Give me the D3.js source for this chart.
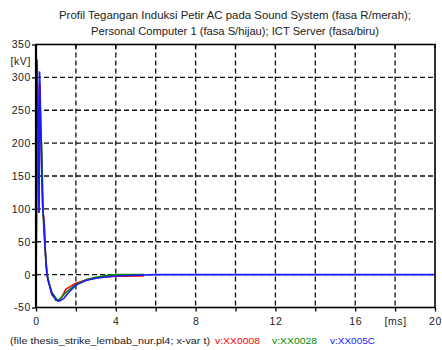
<!DOCTYPE html>
<html><head><meta charset="utf-8">
<script src="https://cdn.jsdelivr.net/npm/d3@7"></script>
<style>
html,body{margin:0;padding:0;background:#fff;}
svg text{font-family:"Liberation Sans",Arial,sans-serif;}
</style></head>
<body><svg id="c" width="442" height="350"></svg>
<script>
// ---- data (time in ms, voltage in kV) ----
const titleLines = ["Profil Tegangan Induksi Petir AC pada Sound System (fasa R/merah);",
                    "Personal Computer 1 (fasa S/hijau); ICT Server (fasa/biru)"];
const xTicks = [0,2,4,6,8,10,12,14,16,18,20];
const xTickLabels = ["0","","4","","8","","12","","16","[ms]","20"];
const yTicks = [-50,0,50,100,150,200,250,300,350];
const yTickLabels = ["-50","0","50","100","150","200","250","300","350"];
const yUnit = "[kV]";
const fileLabel = "(file thesis_strike_lembab_nur.pl4; x-var t)";
const seriesNames = ["v:XX0008","v:XX0028","v:XX005C"];
const seriesColors = ["#ff0000","#008a00","#1a1aff"];

const tRed = [0,0.02,0.07,0.1,0.15,0.18,0.25,0.3,0.34,0.42,0.47,0.55,0.8,1.1,1.3,1.5,2.0,2.5,3.2,4.0,5.4];
const vRed = [0,300,290,230,95,290,215,140,100,75,33,0,-31,-40,-34,-22,-13,-8,-4,-2.5,-2];

const tGreen = [0,0.06,0.12,0.22,0.28,0.33,0.36,0.4,0.47,0.55,0.62,0.8,1.1,1.5,2.0,2.5,3.0,3.5,4.0,5.4];
const vGreen = [0,150,210,218,200,135,90,65,33,2,-9,-27,-40,-27,-15,-8,-4,-1.5,0,0];

const tBlue = [0,0.02,0.05,0.07,0.1,0.15,0.165,0.18,0.2,0.25,0.3,0.34,0.4,0.45,0.5,0.55,0.62,0.78,1.0,1.2,1.4,1.7,2.0,2.5,3.0,3.5,4.0,5.0,6.0,20];
const vBlue = [0,328,326,309,230,95,160,308,290,215,140,100,80,45,18,0,-11,-28,-39,-40,-36,-25,-16,-9,-5.5,-3.5,-2,-1,0,0];

// ---- layout ----
const svg = d3.select("#c");
const L = 36, R = 435, T = 44.5, B = 307.5;
const x = d3.scaleLinear().domain([0,20]).range([L,R]);
const y = d3.scaleLinear().domain([-50,350]).range([B,T]);

// title
svg.selectAll("text.title").data(titleLines).join("text")
  .attr("class","title")
  .attr("x",235).attr("y",(d,i)=>19+i*16)
  .attr("text-anchor","middle")
  .attr("font-size",10.5).attr("fill","#222")
  .attr("textLength",(d,i)=>i===0?352:288).attr("lengthAdjust","spacingAndGlyphs")
  .text(d=>d);

// grid
const grid = svg.append("g").attr("stroke","#111").attr("stroke-width",1.3).attr("stroke-dasharray","5,3");
grid.selectAll("line.h").data(yTicks.filter(v=>v>-50 && v<350)).join("line")
  .attr("x1",L).attr("x2",R).attr("y1",d=>y(d)).attr("y2",d=>y(d));
grid.selectAll("line.v").data(xTicks.filter(v=>v>0 && v<20)).join("line")
  .attr("class","v")
  .attr("y1",T).attr("y2",B).attr("x1",d=>x(d)).attr("x2",d=>x(d));

// series
const line = d3.line().x(d=>x(d[0])).y(d=>y(d[1]));
const series = [d3.zip(tRed,vRed), d3.zip(tGreen,vGreen), d3.zip(tBlue,vBlue)];
svg.append("g").selectAll("path").data(series).join("path")
  .attr("d",line).attr("fill","none")
  .attr("stroke",(d,i)=>seriesColors[i]).attr("stroke-width",1.6)
  .attr("stroke-linejoin","round");

// axes
const yAxis = d3.axisLeft(y).tickValues(yTicks).tickSize(4).tickFormat((d,i)=>yTickLabels[i]);
const gy = svg.append("g").attr("transform",`translate(${L},0)`).call(yAxis);
const xAxis = d3.axisBottom(x).tickValues(xTicks).tickSize(4).tickFormat((d,i)=>xTickLabels[i]);
const gx = svg.append("g").attr("transform",`translate(0,${B})`).call(xAxis);
[gy,gx].forEach(g=>{
  g.select(".domain").remove();
  g.selectAll(".tick line").attr("stroke","#000").attr("stroke-width",1.3);
  g.selectAll(".tick text").attr("font-size",10.5).attr("fill","#222")
   .attr("font-family","'Liberation Sans',Arial,sans-serif").style("letter-spacing","0.6px");
});
gy.selectAll(".tick text").attr("x",-5);
gx.selectAll(".tick text").attr("y",10);
// top inward ticks
svg.append("g").selectAll("line").data(xTicks).join("line")
  .attr("x1",d=>x(d)).attr("x2",d=>x(d)).attr("y1",T).attr("y2",T+4)
  .attr("stroke","#000").attr("stroke-width",1.3);

// frame
svg.append("rect").attr("x",L).attr("y",T).attr("width",R-L).attr("height",B-T)
  .attr("fill","none").attr("stroke","#000").attr("stroke-width",1.6);
svg.append("line").attr("x1",L).attr("x2",L).attr("y1",T).attr("y2",B)
  .attr("stroke","#000").attr("stroke-width",2.2);

// unit label
svg.append("text").attr("x",L-5).attr("y",y(325)+4).attr("text-anchor","end")
  .attr("font-size",10.5).attr("fill","#222").style("letter-spacing","0.6px").text(yUnit);

// bottom legend
const leg = svg.append("text").attr("y",344).attr("font-size",9.5);
leg.append("tspan").attr("x",10).attr("fill","#222").attr("textLength",200).attr("lengthAdjust","spacingAndGlyphs").text(fileLabel);
const legX = [215,272,330];
seriesNames.forEach((n,i)=>{
  leg.append("tspan").attr("x",legX[i]).attr("fill",seriesColors[i])
    .attr("textLength",45).attr("lengthAdjust","spacingAndGlyphs").text(n);
});
</script></body></html>
